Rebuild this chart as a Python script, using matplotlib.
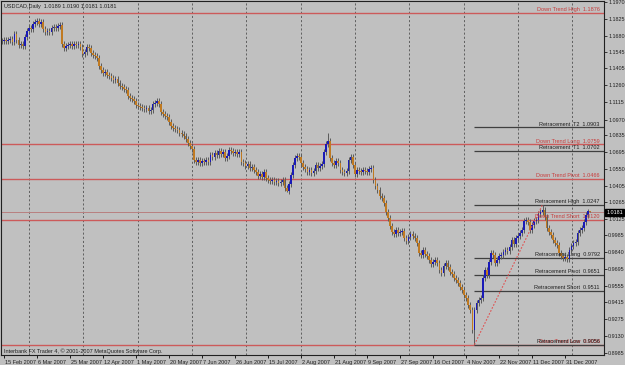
import numpy as np
import matplotlib.pyplot as plt
import matplotlib.transforms as mtrans

# USDCAD daily closes, one per bar (6 bars a week, Sunday bars included)
closes = [
    1.1638, 1.1646, 1.1638, 1.1646, 1.1655, 1.1629, 1.1697, 1.1646, 1.1604, 1.1612,
    1.1595, 1.1672, 1.1723, 1.1748, 1.1740, 1.1782, 1.1800, 1.1808, 1.1782, 1.1800,
    1.1740, 1.1714, 1.1723, 1.1714, 1.1748, 1.1757, 1.1748, 1.1766, 1.1774, 1.1612,
    1.1578, 1.1595, 1.1604, 1.1612, 1.1595, 1.1612, 1.1604, 1.1612, 1.1587, 1.1527,
    1.1544, 1.1587, 1.1578, 1.1536, 1.1519, 1.1510, 1.1493, 1.1425, 1.1391, 1.1366,
    1.1374, 1.1349, 1.1340, 1.1323, 1.1306, 1.1315, 1.1281, 1.1255, 1.1247, 1.1230,
    1.1221, 1.1170, 1.1153, 1.1145, 1.1128, 1.1094, 1.1085, 1.1077, 1.1068, 1.1060,
    1.1068, 1.1043, 1.1051, 1.1102, 1.1111, 1.1128, 1.1102, 1.1034, 1.1017, 1.1000,
    1.0992, 1.0949, 1.0915, 1.0898, 1.0890, 1.0881, 1.0856, 1.0847, 1.0830, 1.0805,
    1.0771, 1.0745, 1.0720, 1.0626, 1.0609, 1.0626, 1.0601, 1.0618, 1.0609, 1.0626,
    1.0609, 1.0669, 1.0652, 1.0686, 1.0669, 1.0703, 1.0677, 1.0694, 1.0643, 1.0660,
    1.0711, 1.0703, 1.0686, 1.0694, 1.0677, 1.0694, 1.0609, 1.0601, 1.0575, 1.0592,
    1.0558, 1.0567, 1.0541, 1.0524, 1.0490, 1.0507, 1.0482, 1.0524, 1.0473, 1.0456,
    1.0448, 1.0456, 1.0439, 1.0448, 1.0430, 1.0439, 1.0456, 1.0388, 1.0362, 1.0422,
    1.0499, 1.0584, 1.0643, 1.0660, 1.0652, 1.0601, 1.0567, 1.0550, 1.0524, 1.0541,
    1.0516, 1.0533, 1.0584, 1.0558, 1.0575, 1.0592, 1.0694, 1.0762, 1.0788, 1.0643,
    1.0601, 1.0584, 1.0618, 1.0601, 1.0541, 1.0524, 1.0516, 1.0533, 1.0626, 1.0652,
    1.0584, 1.0507, 1.0541, 1.0533, 1.0524, 1.0541, 1.0533, 1.0524, 1.0550, 1.0558,
    1.0456, 1.0405, 1.0371, 1.0320, 1.0303, 1.0260, 1.0184, 1.0133, 1.0065, 1.0014,
    0.9997, 1.0031, 1.0005, 1.0014, 1.0022, 0.9963, 0.9937, 0.9971, 0.9997, 0.9980,
    0.9963, 0.9920, 0.9835, 0.9818, 0.9861, 0.9827, 0.9810, 0.9776, 0.9742, 0.9759,
    0.9776, 0.9750, 0.9691, 0.9665, 0.9725, 0.9750, 0.9716, 0.9674, 0.9657, 0.9623,
    0.9606, 0.9580, 0.9546, 0.9521, 0.9478, 0.9453, 0.9393, 0.9351, 0.9180, 0.9351,
    0.9410, 0.9436, 0.9453, 0.9623, 0.9691, 0.9648, 0.9759, 0.9835, 0.9818, 0.9750,
    0.9776, 0.9810, 0.9818, 0.9844, 0.9861, 0.9852, 0.9886, 0.9946, 0.9912, 0.9963,
    0.9980, 1.0005, 1.0031, 1.0107, 1.0116, 1.0099, 1.0031, 1.0073, 1.0107, 1.0116,
    1.0167, 1.0184, 1.0201, 1.0141, 1.0048, 1.0014, 0.9988, 0.9946, 0.9920, 0.9903,
    0.9835, 0.9810, 0.9793, 0.9801, 0.9784, 0.9861, 0.9895, 0.9920, 0.9929, 1.0005,
    1.0031, 1.0048, 1.0099, 1.0158, 1.0189, 1.0181,
]
# a few wicks that stand out on the chart
spike_high = {158: 1.0856, 262: 1.0247, 285: 1.0190}
spike_low = {138: 1.0354, 229: 0.9056, 285: 1.0181}

date_labels = ["15 Feb 2007", "6 Mar 2007", "25 Mar 2007", "12 Apr 2007", "1 May 2007",
               "20 May 2007", "7 Jun 2007", "26 Jun 2007", "15 Jul 2007", "2 Aug 2007",
               "21 Aug 2007", "9 Sep 2007", "27 Sep 2007", "16 Oct 2007", "4 Nov 2007",
               "22 Nov 2007", "11 Dec 2007", "31 Dec 2007"]
price_ticks = [1.1970, 1.1825, 1.1680, 1.1545, 1.1405, 1.1260, 1.1115, 1.0970, 1.0835,
               1.0695, 1.0550, 1.0405, 1.0265, 1.0125, 0.9985, 0.9840, 0.9695, 0.9555,
               0.9415, 0.9275, 0.9130, 0.8985]

# levels drawn across the whole chart (red) and from the swing low (grey)
trend_names = ["Down Trend High", "Down Trend Long", "Down Trend Pivot", "Down Trend Short", "Down Trend Low"]
trend_levels = [1.1876, 1.0759, 1.0466, 1.0120, 0.9056]
retr_names = ["Retracement  T2", "Retracement  T1", "Retracement High", "Retracement Long",
              "Retracement Pivot", "Retracement Short", "Retracement Low"]
retr_levels = [1.0903, 1.0702, 1.0247, 0.9792, 0.9651, 0.9511, 0.9056]
swing_low_bar, swing_high_bar = 229, 262
last_price = 1.0181

BG = '#c0c0c0'
UP = '#1a1ab8'
DOWN = '#c07a22'
WICK_COL = '#5a5a5a'
RED = '#cc5a5a'
WICK = 0.0022

c = np.array(closes)
o = np.concatenate([[c[0]], c[:-1]])
o[-1] = 1.0189
x = np.arange(len(c))
hi = np.maximum(o, c) + WICK
lo = np.minimum(o, c) - WICK
for k, v in spike_high.items():
    hi[k] = v
for k, v in spike_low.items():
    lo[k] = v

plt.rcParams['font.family'] = ['Liberation Sans Narrow', 'Liberation Sans', 'DejaVu Sans']
fig = plt.figure(figsize=(6.25, 3.65), dpi=100, facecolor=BG)
ax = fig.add_axes([1 / 625, 10 / 365, 603 / 625, 354 / 365], facecolor=BG)
fs = 4.0

xmax = 291.8
ax.set_xlim(-0.5, xmax)
ax.set_ylim(0.8968, 1.1978)

# vertical dashed grid
for gx in np.arange(13.0, xmax, 26.35):
    ax.axvline(gx, color='#505050', lw=0.6, ls=(0, (2.5, 2.5)), zorder=1)

# level lines
for lev in trend_levels:
    ax.axhline(lev, color=RED, lw=1.0, zorder=2)
for lev in retr_levels:
    ax.hlines(lev, swing_low_bar, xmax, color='#404040', lw=0.9, zorder=3)
ax.axhline(last_price, color='#b88080', lw=0.7, zorder=2)

# candles
ax.vlines(x, lo, hi, color=WICK_COL, lw=0.7, zorder=4)
body = c - o
body = np.where(np.abs(body) < 0.0004, 0.0004, body)
cols = [UP if cc >= oo else DOWN for oo, cc in zip(o, c)]
ax.bar(x, body, bottom=o, width=0.8, color=cols, edgecolor='none', zorder=5)

# fibo trend line
ax.plot([swing_low_bar, swing_high_bar], [spike_low[swing_low_bar], spike_high[swing_high_bar]],
        color='#e05050', lw=0.8, ls=(0, (1.5, 1.5)), zorder=6)

# level labels, right aligned above the lines
lx = 289.8
for name, lev in zip(trend_names, trend_levels):
    ax.text(lx, lev + 0.0007, f"{name}  {lev:.4f}", color='#c83c3c', fontsize=fs,
            ha='right', va='bottom', zorder=7)
for name, lev in zip(retr_names, retr_levels):
    ax.text(lx, lev + 0.0007, f"{name}  {lev:.4f}", color='#202020', fontsize=fs,
            ha='right', va='bottom', zorder=7)

ax.text(0.005, 0.992, "USDCAD,Daily  1.0189 1.0190 1.0181 1.0181", transform=ax.transAxes,
        fontsize=fs, ha='left', va='top', color='#202020')
ax.text(0.005, 0.004, "Interbank FX Trader 4, \u00a9 2001-2007 MetaQuotes Software Corp.",
        transform=ax.transAxes, fontsize=fs, ha='left', va='bottom', color='#202020')

# axes
ax.yaxis.tick_right()
ax.set_yticks(price_ticks)
ax.set_yticklabels([f"{t:.4f}" for t in price_ticks], fontsize=3.9, color='#202020')
ax.tick_params(axis='y', length=2, width=0.6, pad=1.0, colors='#202020')
ax.set_xticks(np.arange(len(date_labels)) * 16 + 1)
ax.set_xticklabels(date_labels, fontsize=fs, ha='left', color='#202020')
ax.tick_params(axis='x', length=2.5, width=0.6, pad=1.0, direction='out')
for lab in ax.get_xticklabels():
    lab.set_transform(lab.get_transform() + mtrans.ScaledTranslation(1 / 100, 0, fig.dpi_scale_trans))
for s in ax.spines.values():
    s.set_color('#202020')
    s.set_linewidth(0.8)

# current price box on the scale
ax.text(1.004, last_price, f"{last_price:.4f}", transform=ax.get_yaxis_transform(),
        fontsize=3.9, color='white', ha='left', va='center',
        bbox=dict(boxstyle='square,pad=0.2', fc='black', ec='black'), zorder=10, clip_on=False)

fig.savefig('out.png', dpi=100, facecolor=BG)
